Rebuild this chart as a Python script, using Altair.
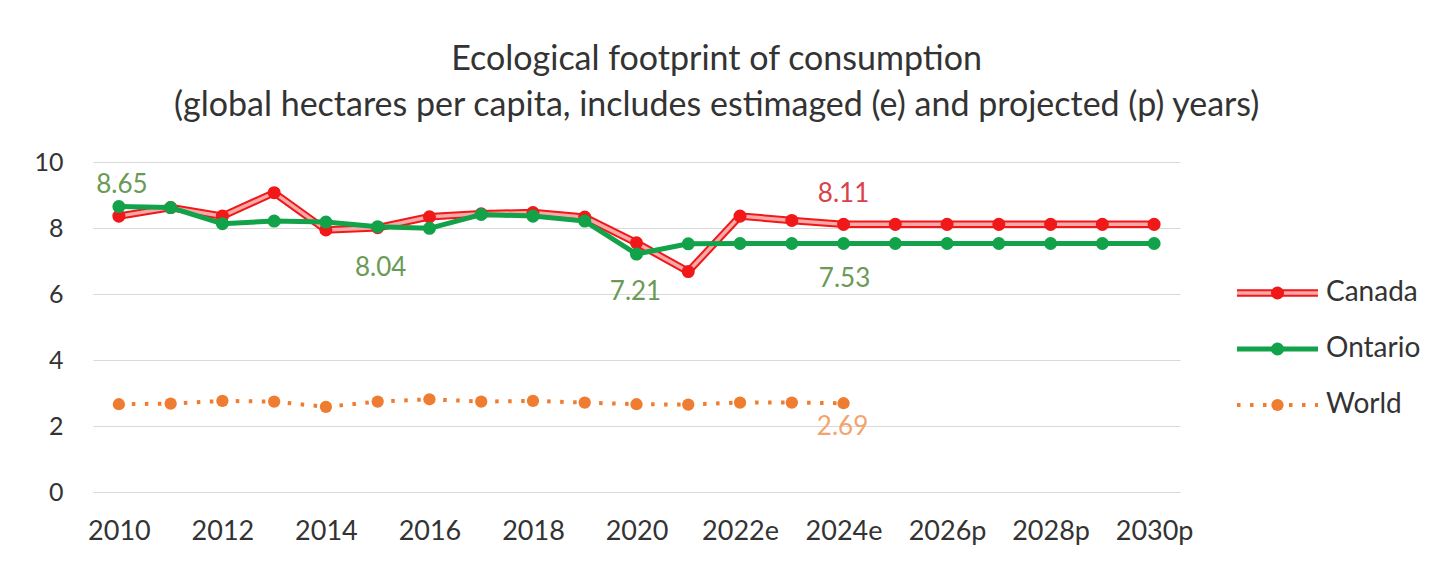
import altair as alt
import pandas as pd

# ---------------- data ----------------
years = ["2010", "2011", "2012", "2013", "2014", "2015", "2016", "2017", "2018",
         "2019", "2020", "2021", "2022e", "2023e", "2024e", "2025p", "2026p",
         "2027p", "2028p", "2029p", "2030p"]
tick_labels = ["2010", "2012", "2014", "2016", "2018", "2020", "2022e", "2024e",
               "2026p", "2028p", "2030p"]
canada = [8.36, 8.62, 8.36, 9.07, 7.94, 8.01, 8.34, 8.43, 8.47, 8.33, 7.55, 6.68,
          8.36, 8.23, 8.11, 8.11, 8.11, 8.11, 8.11, 8.11, 8.11]
ontario = [8.65, 8.62, 8.13, 8.21, 8.18, 8.04, 7.99, 8.41, 8.36, 8.21, 7.21, 7.52,
           7.53, 7.53, 7.53, 7.53, 7.53, 7.53, 7.53, 7.53, 7.53]
world = [2.66, 2.68, 2.76, 2.74, 2.58, 2.74, 2.81, 2.74, 2.76, 2.71, 2.66, 2.65,
         2.71, 2.71, 2.69]
series_names = ["Canada", "Ontario", "World"]
# labelled points: (series, year, value text)
labels = [("Ontario", "2010", "8.65"), ("Ontario", "2015", "8.04"),
          ("Ontario", "2020", "7.21"), ("Ontario", "2024e", "7.53"),
          ("Canada", "2024e", "8.11"), ("World", "2024e", "2.69")]

rows = []
for name, vals in zip(series_names, [canada, ontario, world]):
    for y, v in zip(years, vals):
        rows.append({"year": y, "series": name, "value": v})
df = pd.DataFrame(rows)

lab_rows = []
for s, y, t in labels:
    v = df[(df.series == s) & (df.year == y)].value.iloc[0]
    lab_rows.append({"series": s, "year": y, "value": v, "text": t})
lab_df = pd.DataFrame(lab_rows)

FONT = "Lato"
RED = "#f01818"
PINK = "#f7a8a8"
GREEN = "#12a24a"
ORANGE = "#ee7d31"

xenc = alt.X("year:O", sort=years, title=None,
             scale=alt.Scale(padding=0.5),
             axis=alt.Axis(values=tick_labels, labelAngle=0, labelFontSize=27,
                           labelColor="#333333", labelPadding=26, domain=False,
                           ticks=False, grid=False, labelFont=FONT))
yenc = alt.Y("value:Q", title=None,
             scale=alt.Scale(domain=[0, 10], nice=False),
             axis=alt.Axis(values=[0, 2, 4, 6, 8, 10], labelFontSize=25,
                           labelColor="#333333", labelPadding=30, minExtent=80,
                           domain=False, ticks=False, grid=True,
                           gridColor="#d9d9d9", gridWidth=1.2, labelFont=FONT))

base = alt.Chart(df).encode(x=xenc, y=yenc)

can = base.transform_filter(alt.datum.series == "Canada")
ont = base.transform_filter(alt.datum.series == "Ontario")
wld = base.transform_filter(alt.datum.series == "World")

layers = [
    can.mark_line(color=RED, strokeWidth=7.5),
    can.mark_line(color=PINK, strokeWidth=3.5),
    can.mark_circle(color=RED, size=170, opacity=1),
    ont.mark_line(color=GREEN, strokeWidth=5),
    ont.mark_circle(color=GREEN, size=170, opacity=1),
    wld.mark_line(color=ORANGE, strokeWidth=4, strokeDash=[3.5, 9.5]),
    wld.mark_circle(color=ORANGE, size=150, opacity=1),
]

label_style = {
    "Ontario": "#6a9a55",
    "Canada": "#d9424a",
    "World": "#f2a46f",
}
offsets = [(3, -22), (3, 41), (-1, 38), (1, 35), (0, -30), (-1, 24)]
for (s, y, t), (dx, dy) in zip(labels, offsets):
    layers.append(
        alt.Chart(lab_df).transform_filter(
            (alt.datum.series == s) & (alt.datum.year == y)
        ).mark_text(fontSize=26, font=FONT, color=label_style[s], dx=dx, dy=dy,
                    baseline="middle", align="center").encode(
            x=alt.X("year:O", sort=years), y="value:Q", text="text:N")
    )

main = alt.layer(*layers).properties(width=1087, height=330)

# ---------------- legend panel ----------------
leg_rows = []
for s in series_names:
    for lx in [0.0, 1.0]:
        leg_rows.append({"series": s, "lx": lx})
leg_line = pd.DataFrame(leg_rows)
leg_pt = pd.DataFrame({"series": series_names, "lx": [0.5] * 3})
leg_txt = pd.DataFrame({"series": series_names, "lx": [1.0] * 3})

lx = alt.X("lx:Q", scale=alt.Scale(domain=[0, 1], nice=False), axis=None)
ly = alt.Y("series:N", sort=series_names, axis=None,
           scale=alt.Scale(type="point", padding=0, range=[131, 243]))

lb = alt.Chart(leg_line).encode(x=lx, y=ly)
lp = alt.Chart(leg_pt).encode(x=lx, y=ly)
f = lambda c, s: c.transform_filter(alt.datum.series == s)
legend = alt.layer(
    f(lb, "Canada").mark_line(color=RED, strokeWidth=7.5),
    f(lb, "Canada").mark_line(color=PINK, strokeWidth=3.5),
    f(lp, "Canada").mark_circle(color=RED, size=170, opacity=1),
    f(lb, "Ontario").mark_line(color=GREEN, strokeWidth=5),
    f(lp, "Ontario").mark_circle(color=GREEN, size=170, opacity=1),
    f(lb, "World").mark_line(color=ORANGE, strokeWidth=4, strokeDash=[3.5, 9.5]),
    f(lp, "World").mark_circle(color=ORANGE, size=150, opacity=1),
    alt.Chart(leg_txt).mark_text(align="left", baseline="middle", dx=8,
                                 fontSize=28, font=FONT, color="#333333").encode(
        x=lx, y=ly, text="series:N"),
).properties(width=81, height=330)

chart = alt.hconcat(main, legend, spacing=57, bounds="flush").properties(
    title=alt.TitleParams(
        text=["Ecological footprint of consumption",
              "(global hectares per capita, includes estimaged (e) and projected (p) years)"],
        fontSize=34, lineHeight=46, font=FONT, fontWeight="normal",
        color="#333333", anchor="middle", offset=27),
    padding={"left": 5, "right": 5, "top": 35, "bottom": 5},
).configure_view(stroke=None)

chart.save("out.html", embed_options={"renderer": "svg", "actions": False})
